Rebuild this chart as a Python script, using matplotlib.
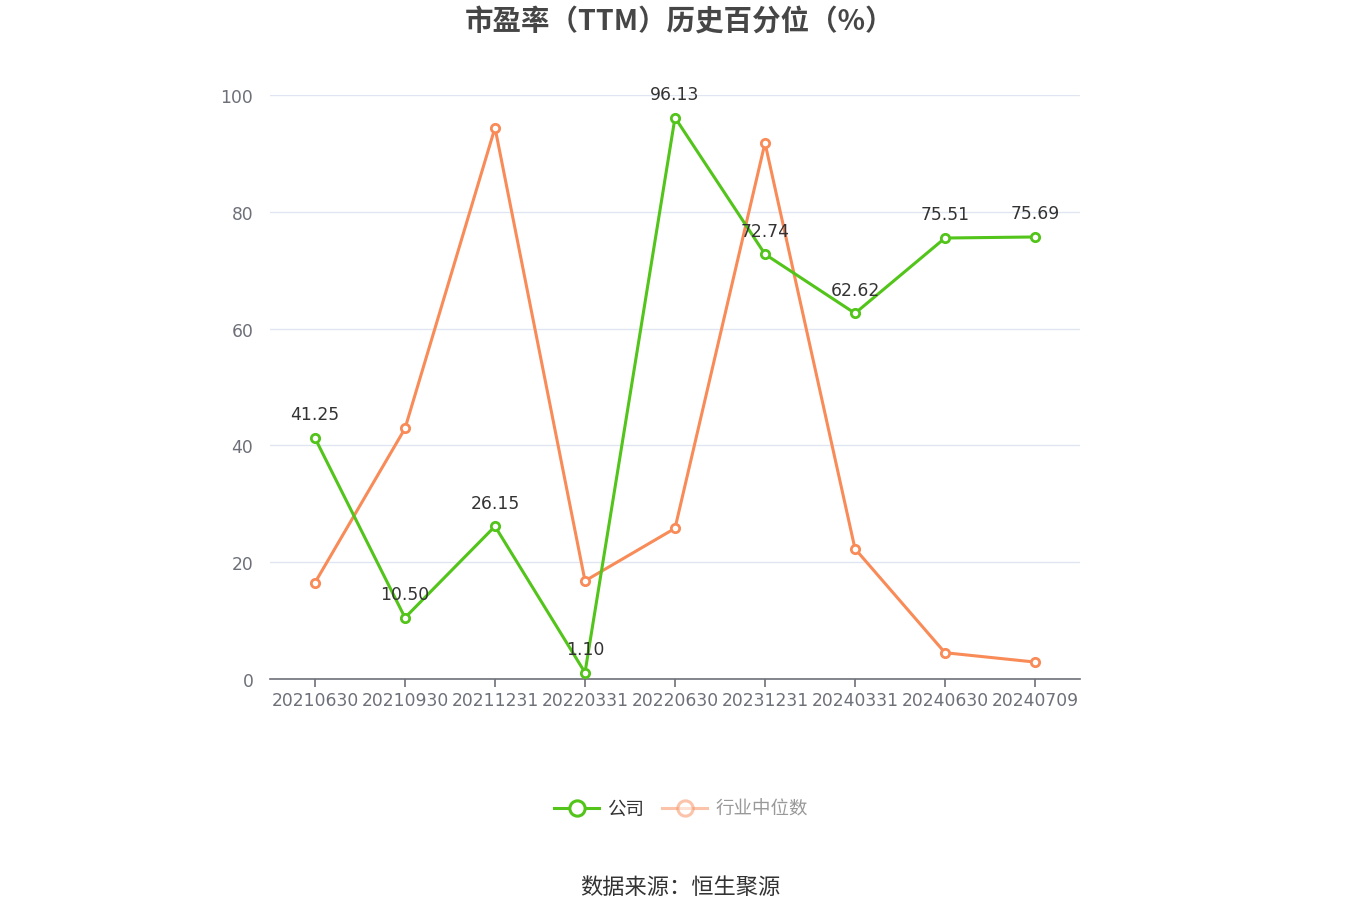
import matplotlib
matplotlib.use("Agg")
import matplotlib.pyplot as plt
from matplotlib.lines import Line2D

plt.rcParams['font.family'] = ['Noto Sans CJK SC', 'DejaVu Sans']

categories = ["20210630", "20210930", "20211231", "20220331", "20220630",
              "20231231", "20240331", "20240630", "20240709"]
company = [41.25, 10.50, 26.15, 1.10, 96.13, 72.74, 62.62, 75.51, 75.69]
industry = [16.5, 42.9, 94.4, 16.8, 25.8, 91.8, 22.3, 4.5, 2.9]
yticks = [0, 20, 40, 60, 80, 100]

green = "#52c41a"
orange = "#f88b57"
numfont = ['DejaVu Sans']

fig = plt.figure(figsize=(13.6, 9.2), dpi=100)
ax = fig.add_axes([270/1360, 1-680/920, 810/1360, 584/920])

x = list(range(len(categories)))
ax.plot(x, industry, color=orange, lw=2.2, marker='o', ms=6, mfc='white',
        mec=orange, mew=2, zorder=3)
ax.plot(x, company, color=green, lw=2.2, marker='o', ms=6, mfc='white',
        mec=green, mew=2, zorder=4)
for xi, v in zip(x, company):
    ax.annotate(f"{v:.2f}", (xi, v), xytext=(0, 17), textcoords='offset points',
                ha='center', va='center', fontsize=12.3, color='#333333',
                family=numfont, zorder=5)

ax.set_xlim(-0.5, len(categories) - 0.5)
ax.set_ylim(0, 100)
ax.set_yticks(yticks)
ax.set_xticks(x)
ax.set_xticklabels(categories)
ax.grid(axis='y', color='#e0e6f1', lw=1)
ax.set_axisbelow(True)
for s in ['top', 'right', 'left']:
    ax.spines[s].set_visible(False)
ax.spines['bottom'].set_color('#6e7079')
ax.spines['bottom'].set_linewidth(1.2)
ax.tick_params(axis='x', colors='#6e7079', length=6, width=1.2, pad=3)
ax.tick_params(axis='y', colors='#6e7079', length=0, pad=12)
for lab in ax.get_xticklabels() + ax.get_yticklabels():
    lab.set_color('#6e7079')
    lab.set_family(numfont)
    lab.set_fontsize(12.3)

fig.text(0.5, 1-22/920, "市盈率（TTM）历史百分位（%）", ha='center', va='center',
         fontsize=20.5, fontweight='bold', color='#464646')

handles = [Line2D([0], [0], color=green, lw=2.2, marker='o', ms=11, mfc='white',
                  mec=green, mew=2.2),
           Line2D([0], [0], color=orange, lw=2.2, marker='o', ms=11, mfc='white',
                  mec=orange, mew=2.2, alpha=0.5)]
leg = fig.legend(handles, ["公司", "行业中位数"], loc='center',
                 bbox_to_anchor=(681/1360, 1-810/920), ncol=2, frameon=False,
                 fontsize=13.3, handlelength=2.4, columnspacing=1.0,
                 handletextpad=0.45)
texts = leg.get_texts()
texts[0].set_color('#333333')
texts[1].set_color('#999999')

fig.text(0.5, 1-888/920, "数据来源：恒生聚源", ha='center', va='center',
         fontsize=16, color='#333333')

fig.savefig("out.png", dpi=100)
